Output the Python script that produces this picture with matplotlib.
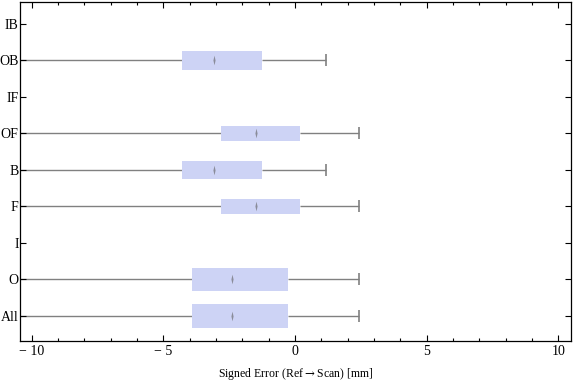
import numpy as np
import matplotlib.pyplot as plt
from matplotlib.ticker import MultipleLocator

# categories from bottom to top
labels = ['All', 'O', 'I', 'F', 'B', 'OF', 'IF', 'OB', 'IB']
has_data = [True, True, False, True, True, True, False, True, False]
q1 = [-3.91, -3.91, np.nan, -2.81, -4.29, -2.81, np.nan, -4.29, np.nan]
med = [-2.40, -2.40, np.nan, -1.48, -3.06, -1.48, np.nan, -3.06, np.nan]
q3 = [-0.27, -0.27, np.nan, 0.19, -1.25, 0.19, np.nan, -1.25, np.nan]
wlo = [-11.5, -11.5, np.nan, -11.5, -11.5, -11.5, np.nan, -11.5, np.nan]
whi = [2.44, 2.44, np.nan, 2.44, 1.19, 2.44, np.nan, 1.19, np.nan]
box_h = [0.65, 0.65, 0, 0.40, 0.49, 0.40, 0, 0.51, 0]

plt.rcParams['font.family'] = ['Liberation Serif', 'DejaVu Serif']
plt.rcParams['mathtext.fontset'] = 'dejavuserif'

fig = plt.figure(figsize=(5.76, 3.81), dpi=100)
ax = fig.add_axes([20 / 576, 1 - 341 / 381, 551 / 576, 339.5 / 381])

pos = np.arange(1, len(labels) + 1)
gray = '#808080'
for i, p in enumerate(pos):
    if not has_data[i]:
        continue
    ax.hlines(p, wlo[i], q1[i], color=gray, lw=1, zorder=1)
    ax.hlines(p, q3[i], whi[i], color=gray, lw=1, zorder=1)
    ax.plot([whi[i]], [p], marker='|', ms=9, mew=1.2, color=gray, zorder=2)
    ax.barh(p, q3[i] - q1[i], left=q1[i], height=box_h[i],
            color='#cdd3f5', edgecolor='none', zorder=2)
    ax.plot([med[i]], [p], marker=[(0, -1), (0.22, 0), (0, 1), (-0.22, 0)],
            ms=7, color='#8a8c9a', mew=0, zorder=3)

ax.set_xlim(-10.44, 10.48)
ax.set_ylim(0.315, 9.616)
ax.set_yticks(pos)
ax.set_yticklabels(labels)
ax.xaxis.set_minor_locator(MultipleLocator(1))
ax.set_xticks([-10, -5, 0, 5, 10])
ax.set_xticklabels(['\u2212 10', '\u2212 5', '0', '5', '10'])
ax.tick_params(axis='both', which='both', direction='in', top=True, right=True,
               labelsize=10, width=0.8)
ax.tick_params(which='major', length=4, pad=3)
ax.tick_params(which='minor', length=2.5)
ax.tick_params(axis='y', pad=1)
ax.set_xlabel('Signed Error (Ref$\\rightarrow$Scan) [mm]', fontsize=8.5, labelpad=6)
for s in ax.spines.values():
    s.set_linewidth(0.9)

fig.savefig('out.png', dpi=100)
